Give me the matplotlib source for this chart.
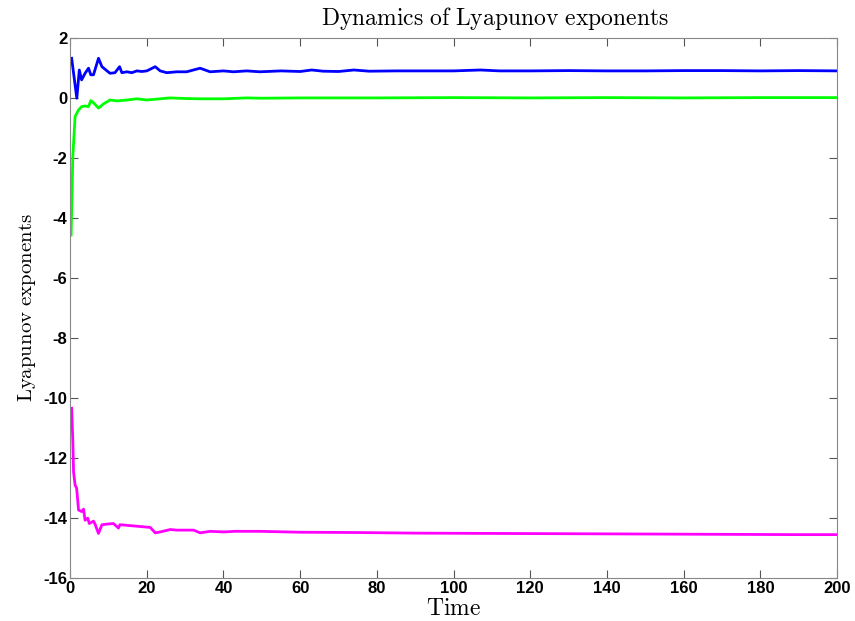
import matplotlib
matplotlib.use("Agg")
import matplotlib.pyplot as plt

# Lyapunov exponent estimates
t_blue = [0.4, 1.75, 2.4, 3.0, 3.9, 4.8, 5.4, 6.1, 7.4, 8.3, 10.4, 11.7, 12.9, 13.5, 14.8,
          16.1, 17.4, 18.7, 20, 22.2, 23.5, 25.2, 27.8, 30.4, 33.9, 36.5, 40, 42.6, 46, 49.5,
          55, 60, 63, 66, 70, 74, 78, 85, 95, 100, 107, 112, 120, 130, 140, 150, 160, 170,
          180, 190, 200]
le_blue = [1.32, -0.01, 0.93, 0.6, 0.82, 0.99, 0.77, 0.77, 1.32, 1.04, 0.82, 0.84, 1.04, 0.84,
           0.87, 0.84, 0.9, 0.88, 0.9, 1.04, 0.9, 0.84, 0.87, 0.87, 0.99, 0.87, 0.9, 0.87, 0.9,
           0.87, 0.9, 0.88, 0.93, 0.89, 0.88, 0.93, 0.89, 0.9, 0.9, 0.9, 0.93, 0.9, 0.9, 0.91,
           0.9, 0.9, 0.91, 0.91, 0.9, 0.91, 0.9]

t_green = [0.26, 0.7, 1.3, 2.2, 3.0, 3.9, 4.8, 5.4, 6.1, 7.4, 8.7, 10.4, 12.2, 14.8, 17.4, 20,
           23.5, 26, 30, 33.9, 40, 46, 50, 60, 80, 100, 120, 140, 160, 180, 200]
le_green = [-4.57, -1.96, -0.62, -0.4, -0.29, -0.27, -0.29, -0.09, -0.16, -0.34, -0.2, -0.07,
            -0.1, -0.07, -0.03, -0.07, -0.03, 0, -0.02, -0.03, -0.03, 0, -0.01, 0, 0, 0.01, 0,
            0.01, 0, 0.01, 0.01]

t_mag = [0.4, 0.7, 0.9, 1.3, 1.7, 2.2, 3.0, 3.5, 3.9, 4.6, 5.0, 6.1, 6.5, 7.4, 8.3, 9.6, 11.3,
         12.6, 13.0, 14.8, 18.3, 20.9, 22.2, 23.5, 26.1, 27.8, 32.2, 33.9, 36.5, 40, 43, 49.5,
         60, 75, 90, 110, 130, 150, 170, 190, 200]
le_mag = [-10.34, -11.4, -12.46, -12.9, -13.0, -13.73, -13.78, -13.7, -14.07, -14.0, -14.18,
          -14.1, -14.2, -14.51, -14.22, -14.2, -14.18, -14.33, -14.22, -14.24, -14.28, -14.31,
          -14.49, -14.46, -14.38, -14.4, -14.4, -14.49, -14.44, -14.46, -14.44, -14.44, -14.47,
          -14.48, -14.5, -14.51, -14.52, -14.53, -14.54, -14.55, -14.55]

x_ticks = list(range(0, 201, 20))
y_ticks = list(range(-16, 3, 2))

plt.rcParams["mathtext.fontset"] = "cm"
plt.rcParams["axes.unicode_minus"] = False

fig = plt.figure(figsize=(8.55, 6.21), dpi=100)
ax = fig.add_axes([0.082, 0.069, 0.897, 0.870])

ax.plot(t_blue, le_blue, color="#0000ff", lw=2)
ax.plot(t_green, le_green, color="#00ff00", lw=2)
ax.plot(t_mag, le_mag, color="#ff00ff", lw=2)

ax.set_xlim(0, 200)
ax.set_ylim(-16, 2)
ax.set_xticks(x_ticks)
ax.set_yticks(y_ticks)
ax.tick_params(direction="in", top=True, right=True, length=6, color="#555555", pad=2)
for lbl in ax.get_xticklabels() + ax.get_yticklabels():
    lbl.set_family(["Liberation Sans", "DejaVu Sans"])
    lbl.set_fontweight("bold")
    lbl.set_fontsize(12)
for sp in ax.spines.values():
    sp.set_color("#888888")

# title sits right of centre in the reference
ax.text(0.554, 1.024, r"$\mathrm{Dynamics\ of\ Lyapunov\ exponents}$", transform=ax.transAxes,
        ha="center", va="baseline", fontsize=17)
ax.set_xlabel(r"$\mathrm{Time}$", fontsize=17, labelpad=0)
ax.set_ylabel(r"$\mathrm{Lyapunov\ exponents}$", fontsize=15, labelpad=4)

fig.savefig("out.png", dpi=100)
